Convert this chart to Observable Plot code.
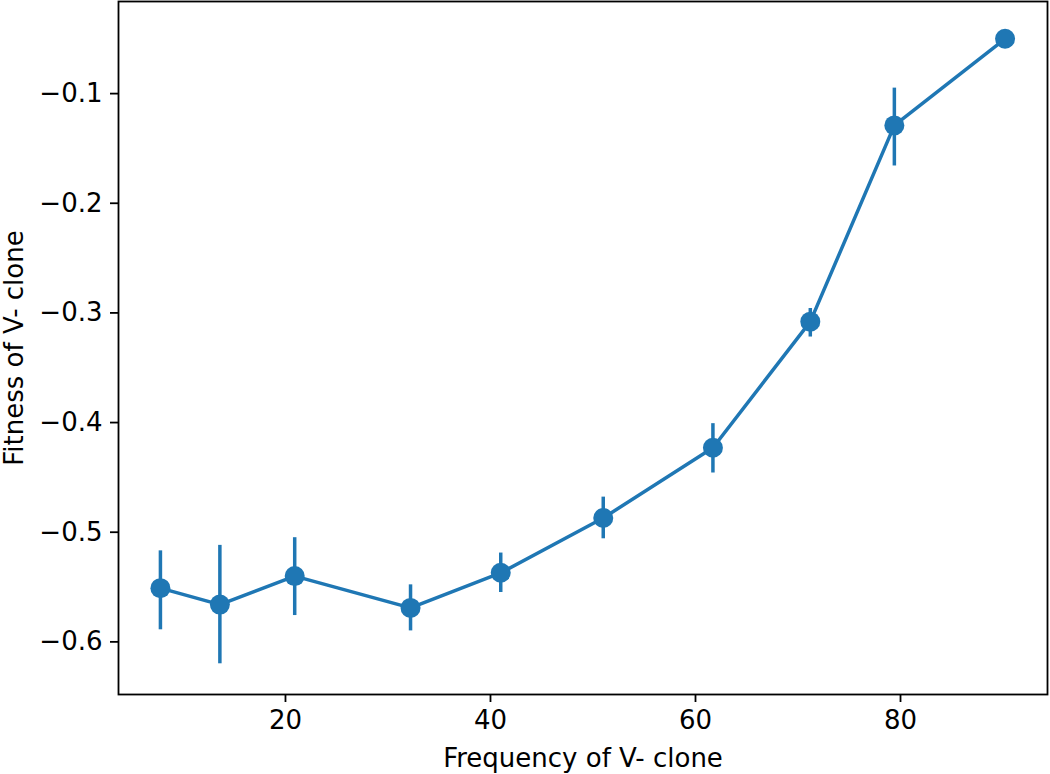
<!DOCTYPE html>
<html><head><meta charset="utf-8">
<script src="https://cdn.jsdelivr.net/npm/d3@7"></script>
<script src="https://cdn.jsdelivr.net/npm/@observablehq/plot@0.6"></script>
<style>body{margin:0;background:#fff} svg{display:block}</style>
</head><body><div id="chart"></div>
<script>
const freq = [7.8, 13.6, 20.9, 32.2, 41.0, 51.0, 61.7, 71.2, 79.4, 90.2];
const fitness = [-0.551, -0.566, -0.540, -0.569, -0.537, -0.487, -0.423, -0.308, -0.129, -0.050];
const errLow = [-0.589, -0.620, -0.576, -0.590, -0.555, -0.506, -0.446, -0.322, -0.166, null];
const errHigh = [-0.517, -0.512, -0.505, -0.548, -0.519, -0.468, -0.401, -0.296, -0.095, null];
const xTicks = [20, 40, 60, 80];
const yTicks = [-0.6, -0.5, -0.4, -0.3, -0.2, -0.1];

const data = freq.map((f, i) => ({x: f, y: fitness[i], lo: errLow[i], hi: errHigh[i]}));
const errData = data.filter(d => d.lo != null);
const blue = "#1f77b4";

const chart = Plot.plot({
  width: 1050, height: 774,
  marginLeft: 118, marginRight: 3, marginTop: 1, marginBottom: 80,
  style: {fontFamily: "DejaVu Sans", fontSize: "26px", color: "#000", background: "#fff"},
  x: {domain: [3.71, 94.34]},
  y: {domain: [-0.648, -0.016]},
  marks: [
    Plot.frame({stroke: "#000", strokeWidth: 1.8}),
    Plot.axisX({ticks: xTicks, tickSize: 8, tickPadding: 8, strokeWidth: 1.8,
      label: "Frequency of V- clone", labelAnchor: "center", labelArrow: "none", labelOffset: 72}),
    Plot.axisY({ticks: yTicks, tickFormat: d3.format(".1f"), tickSize: 8, tickPadding: 8, strokeWidth: 1.8,
      label: "Fitness of V- clone", labelAnchor: "center", labelArrow: "none", labelOffset: 114}),
    Plot.ruleX(errData, {x: "x", y1: "lo", y2: "hi", stroke: blue, strokeWidth: 3.5}),
    Plot.line(data, {x: "x", y: "y", stroke: blue, strokeWidth: 3.5}),
    Plot.dot(data, {x: "x", y: "y", r: 10, fill: blue, stroke: "none"})
  ]
});
document.getElementById("chart").appendChild(chart);
</script></body></html>
